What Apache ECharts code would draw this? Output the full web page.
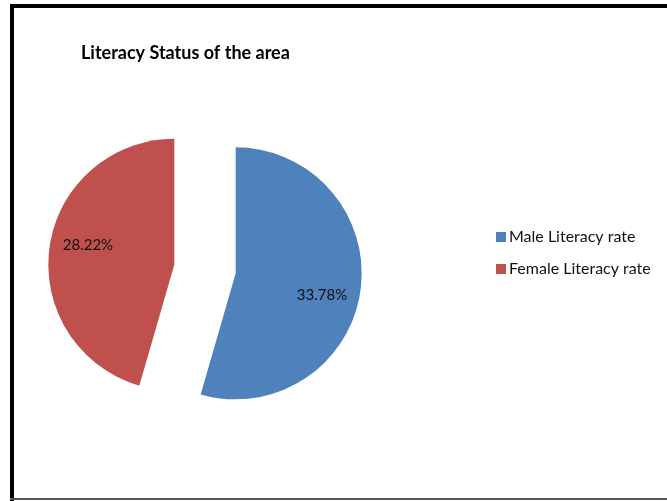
<!DOCTYPE html>
<html>
<head>
<meta charset="utf-8">
<script src="https://cdn.jsdelivr.net/npm/echarts@6/dist/echarts.min.js"></script>
<style>
html,body{margin:0;padding:0;background:#fff;}
#c{width:667px;height:501px;}
</style>
</head>
<body>
<div id="c"></div>
<script>
var titleText = "Literacy Status of the area";
var categories = ["Male Literacy rate", "Female Literacy rate"];
var values = [33.78, 28.22];
var colors = ["#4F81BD", "#C0504D"];
var labelShift = [[21, 13], [-21, -10]];

var chart = echarts.init(document.getElementById('c'), null, {renderer: 'canvas'});
var data = categories.map(function (name, i) {
  return {
    name: name,
    value: values[i],
    selected: true,
    itemStyle: {color: colors[i]}
  };
});

chart.setOption({
  backgroundColor: '#ffffff',
  animation: false,
  title: {
    text: titleText,
    left: 76,
    top: 39,
    textStyle: {fontFamily: 'Lato', fontWeight: 'bold', fontSize: 18, color: '#000'}
  },
  legend: {
    orient: 'vertical',
    left: 491,
    top: 224,
    itemWidth: 10,
    itemHeight: 10,
    itemGap: 16,
    icon: 'rect',
    selectedMode: false,
    textStyle: {fontFamily: 'Lato', fontSize: 16, color: '#111', padding: [0, 0, 0, -2]},
    data: categories
  },
  graphic: [
    {type: 'rect', shape: {x: 10, y: 4, width: 660, height: 4}, style: {fill: '#000'}},
    {type: 'rect', shape: {x: 10, y: 4, width: 4, height: 497}, style: {fill: '#000'}},
    {type: 'rect', shape: {x: 10, y: 498, width: 660, height: 2}, style: {fill: '#555'}}
  ],
  series: [{
    type: 'pie',
    center: [205, 269],
    radius: 126,
    startAngle: 90,
    clockwise: true,
    selectedMode: 'multiple',
    selectedOffset: 31,
    avoidLabelOverlap: false,
    label: {
      show: true,
      position: 'inside',
      formatter: function (p) { return p.value.toFixed(2) + '%'; },
      fontFamily: 'Lato',
      fontSize: 15,
      color: '#111'
    },
    labelLayout: function (p) {
      var s = labelShift[p.dataIndex];
      return {dx: s[0], dy: s[1]};
    },
    labelLine: {show: false},
    emphasis: {disabled: true},
    itemStyle: {borderWidth: 0},
    data: data
  }]
});
</script>
</body>
</html>
